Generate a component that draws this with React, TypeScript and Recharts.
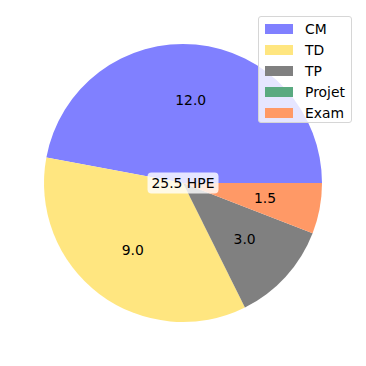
import React from 'react';
import { PieChart, Pie, Cell } from 'recharts';

const categories = ['CM', 'TD', 'TP', 'Projet', 'Exam'];
const hours = [12.0, 9.0, 3.0, 0, 1.5];
const colors = ['#8080ff', '#ffe680', '#808080', '#5aaa80', '#ff9966'];
const totalLabel = '25.5 HPE';

const FONT = '"DejaVu Sans", sans-serif';

const data = categories.map((name, i) => ({ name, value: hours[i] }));

const RADIAN = Math.PI / 180;

const renderLabel = (props: any) => {
    const { cx, cy, midAngle, outerRadius, value } = props;
    if (!value) return null;
    const r = outerRadius * 0.6;
    const x = cx + r * Math.cos(-midAngle * RADIAN);
    const y = cy + r * Math.sin(-midAngle * RADIAN);
    return (
        <text x={x} y={y} textAnchor="middle" dominantBaseline="central" fontSize={13.9} fontFamily={FONT} fill="#000">
            {value.toFixed(1)}
        </text>
    );
};

const App: React.FC = () => {
    return (
        <div style={{ position: 'absolute', left: 0, top: 0, width: 366, height: 366, background: '#fff' }}>
            <PieChart width={366} height={366} margin={{ top: 0, right: 0, bottom: 0, left: 0 }}>
                <Pie
                    data={data}
                    dataKey="value"
                    nameKey="name"
                    cx={183}
                    cy={183}
                    outerRadius={139}
                    startAngle={0}
                    endAngle={360}
                    stroke="none"
                    label={renderLabel}
                    labelLine={false}
                    isAnimationActive={false}
                >
                    {data.map((d, i) => (
                        <Cell key={d.name} fill={colors[i]} />
                    ))}
                </Pie>
            </PieChart>

            {/* total in the middle */}
            <div
                style={{
                    position: 'absolute',
                    left: 183,
                    top: 183,
                    transform: 'translate(-50%, -50%)',
                    background: 'rgba(255,255,255,0.8)',
                    borderRadius: 4,
                    padding: '2px 4px',
                    fontFamily: FONT,
                    fontSize: 13.9,
                    lineHeight: '17px',
                    whiteSpace: 'nowrap',
                    color: '#000',
                }}
            >
                {totalLabel}
            </div>

            {/* legend box, top right */}
            <div
                style={{
                    position: 'absolute',
                    left: 258,
                    top: 16,
                    width: 92,
                    height: 105,
                    background: 'rgba(255,255,255,0.8)',
                    border: '1px solid #d6d6d6',
                    borderRadius: 3,
                    fontFamily: FONT,
                    fontSize: 13.9,
                    color: '#000',
                }}
            >
                {categories.map((name, i) => (
                    <div key={name} style={{ position: 'absolute', left: 6, top: 4 + i * 21, height: 16, display: 'flex', alignItems: 'center' }}>
                        <span style={{ display: 'inline-block', width: 28, height: 10, background: colors[i] }} />
                        <span style={{ marginLeft: 12, lineHeight: '16px' }}>{name}</span>
                    </div>
                ))}
            </div>
        </div>
    );
};

export default App;
